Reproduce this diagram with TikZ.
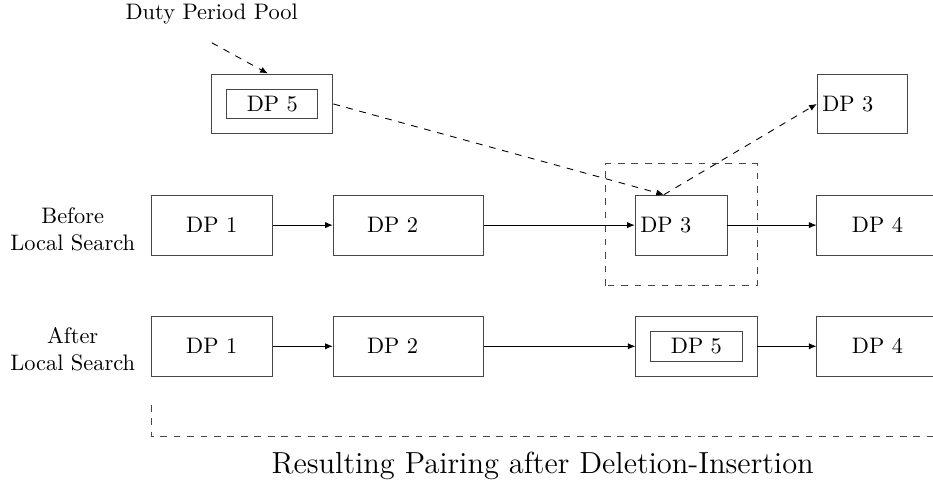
\documentclass[tikz,border=0pt]{standalone}
\usepackage{fontspec}
\usepackage{tikz}
\usetikzlibrary{calc}
\usetikzlibrary{arrows,arrows.meta,shapes,positioning}
\tikzset{>={Latex[length=3.4pt,width=2.8pt]}}
\definecolor{lgr}{RGB}{70,70,70}
\tikzset{dpbox/.style={draw=lgr, minimum width=1.9cm, minimum height=0.94cm, inner sep=0pt}}
\tikzset{dpwide/.style={draw=lgr, minimum height=0.94cm, text width=2.35cm, align=left, inner sep=0pt}}
\tikzset{dpin/.style={draw=lgr, minimum width=1.43cm, minimum height=0.47cm, inner sep=0pt}}
\tikzset{dpleft/.style={draw=lgr, minimum height=0.94cm, text width=1.28cm, align=left, inner xsep=0.08cm, inner ysep=0pt}}

\begin{document}
\begin{tikzpicture}
	\useasboundingbox (0, 0) rectangle (14.63, 7.65);
	% pool and the removed duty period
	\node (pool) at (3.32, 7.43) {Duty Period Pool};
	\coordinate (poolout) at (3.32, 6.98);
	\node [dpbox] (p5) at (4.27, 6.02) {};
	\node [dpin] (p5in) at (p5) {DP 5};
	\node [dpleft, text width=1.25cm] (out3) at (13.52, 6.02) {DP 3};
	% before
	\node [align=center] (before) at (1.14, 4.06) {Before\\Local Search};
	\node [dpbox] (b1) at (3.32, 4.12) {DP 1};
	\node [dpwide] (b2) at (6.40, 4.12) {\hspace*{0.53cm}DP 2};
	\node [dpleft] (b3) at (10.68, 4.12) {DP 3};
	\node [dpbox] (b4) at (13.76, 4.12) {DP 4};
	\coordinate (b3top) at ($(b3.north)+(-0.27, 0)$);
	\draw [dashed, lgr] (9.49, 3.17) rectangle (11.87, 5.08);
	% after
	\node [align=center] (after) at (1.14, 2.18) {After\\Local Search};
	\node [dpbox] (a1) at (3.32, 2.22) {DP 1};
	\node [dpwide] (a2) at (6.40, 2.22) {\hspace*{0.53cm}DP 2};
	\node [dpbox] (a5) at (10.92, 2.22) {};
	\node [dpin] (a5in) at (a5) {DP 5};
	\node [dpbox] (a4) at (13.76, 2.22) {DP 4};
	\draw [->] (b1)--(b2);
	\draw [->] (b2)--(b3);
	\draw [->] (b3)--(b4);
	\draw [->] (a1)--(a2);
	\draw [->] (a2)--(a5);
	\draw [->] (a5)--(a4);
	% deletion-insertion moves
	\draw [->, dashed] (poolout)--($(p5.north)+(-0.07, 0)$);
	\draw [->, dashed] (p5.east)--(b3top);
	\draw [->, dashed] (b3top)--(out3.west);
	\draw [dashed, lgr] (2.38, 1.30) |- (14.8, 0.80);
	\node (result) at (8.51, 0.345) {\fontsize{13.6}{16}\selectfont Resulting Pairing after Deletion-Insertion};
\end{tikzpicture}
\end{document}
